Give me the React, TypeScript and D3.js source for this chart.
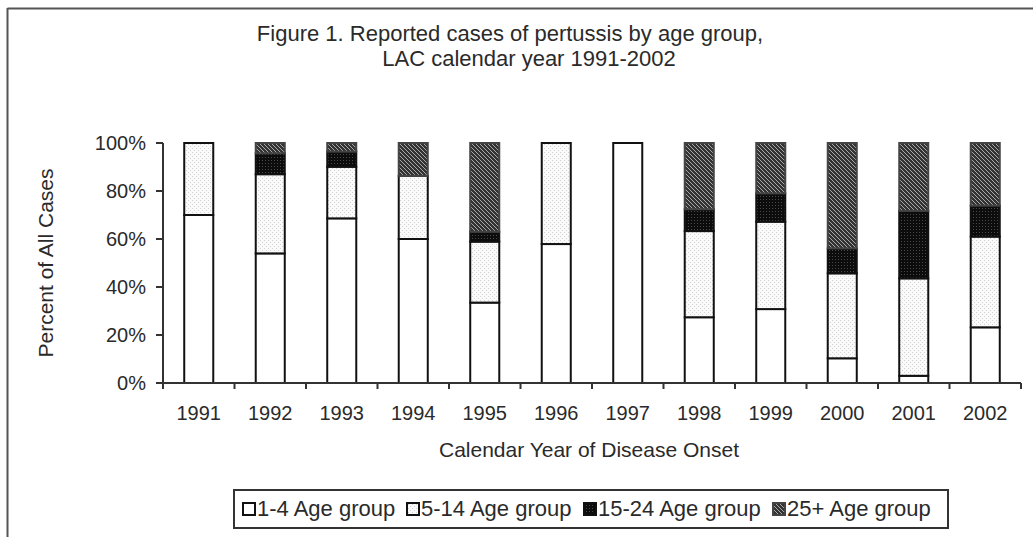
import React from "react";
import * as d3 from "d3";

const years = ["1991", "1992", "1993", "1994", "1995", "1996", "1997", "1998", "1999", "2000", "2001", "2002"];
const age1to4 = [70, 54, 68.6, 60, 33.5, 57.9, 100, 27.4, 30.8, 10.3, 3, 23.2];
const age5to14 = [30, 33, 21.5, 26.3, 25.4, 42.1, 0, 35.9, 36.4, 35.4, 40.6, 37.8];
const age15to24 = [0, 8.7, 6.3, 0, 4.1, 0, 0, 9.1, 11.8, 10.4, 28.1, 12.9];
const age25plus = [0, 4.3, 3.6, 13.7, 37, 0, 0, 27.6, 21, 43.9, 28.3, 26.1];
const seriesNames = ["1-4 Age group", "5-14 Age group", "15-24 Age group", "25+ Age group"];
const yTicks = [0, 20, 40, 60, 80, 100];

const keys = ["a", "b", "c", "d"];
const fills = ["#ffffff", "url(#pDots)", "url(#pDark)", "url(#pHatch)"];
const strokes = ["#111", "#111", "#111", "#444"];

export default function App() {
  const W = 1033, H = 537;
  const left = 163, right = 1021, top = 143, bottom = 383;
  const rows = years.map((y, i) => ({ year: y, a: age1to4[i], b: age5to14[i], c: age15to24[i], d: age25plus[i] }));
  const stack = d3.stack<any>().keys(keys)(rows);
  const x = d3.scaleBand<string>().domain(years).range([left, right]).paddingInner(0.594).paddingOuter(0.297);
  const y = d3.scaleLinear().domain([0, 100]).range([bottom, top]);
  const step = x.step();
  const font = "'Liberation Sans', Arial, sans-serif";
  const txt = "#2a2a2a";

  const legendSw = [243, 407, 584, 773];

  return (
    <svg width={W} height={H} style={{ position: "absolute", left: 0, top: 0, background: "#fff" }} fontFamily={font}>
      <defs>
        <pattern id="pDots" width="4" height="4" patternUnits="userSpaceOnUse">
          <rect width="4" height="4" fill="#fafafa" />
          <rect x="0" y="0" width="1" height="1" fill="#d2d2d2" />
          <rect x="2" y="2" width="1" height="1" fill="#d2d2d2" />
        </pattern>
        <pattern id="pDark" width="3" height="3" patternUnits="userSpaceOnUse">
          <rect width="3" height="3" fill="#0c0c0c" />
          <rect x="1" y="1" width="1" height="1" fill="#4a4a4a" />
        </pattern>
        <pattern id="pHatch" width="4" height="4" patternUnits="userSpaceOnUse">
          <rect width="4" height="4" fill="#333" />
          <path d="M0,0 l4,4 M-1,3 l2,2 M3,-1 l2,2" stroke="#a8a8a8" strokeWidth="1" />
        </pattern>
      </defs>

      {/* outer frame */}
      <line x1={7.5} y1={8.5} x2={W} y2={8.5} stroke="#555" strokeWidth={2} />
      <line x1={7.5} y1={8} x2={7.5} y2={H} stroke="#555" strokeWidth={2} />

      {/* title */}
      <text x={510} y={41} textAnchor="middle" fontSize={22} fill={txt}>Figure 1. Reported cases of pertussis by age group,</text>
      <text x={529} y={66} textAnchor="middle" fontSize={22} fill={txt}>LAC calendar year 1991-2002</text>

      {/* bars */}
      {stack.map((s, si) =>
        s.map((d, i) => {
          const h = y(d[0]) - y(d[1]);
          if (h <= 0.01) return null;
          return (
            <rect key={si + "-" + i} x={x(years[i])} y={y(d[1])} width={x.bandwidth()} height={h}
              fill={fills[si]} stroke={strokes[si]} strokeWidth={2} />
          );
        })
      )}

      {/* y axis */}
      <line x1={left} y1={top} x2={left} y2={bottom + 6} stroke="#333" strokeWidth={2} />
      {yTicks.map((t) => (
        <g key={t}>
          <line x1={left - 7} x2={left} y1={y(t)} y2={y(t)} stroke="#333" strokeWidth={2} />
          <text x={146} y={y(t)} dy="0.35em" textAnchor="end" fontSize={20} fill={txt}>{t}%</text>
        </g>
      ))}
      {/* x axis */}
      <line x1={left} y1={bottom} x2={right} y2={bottom} stroke="#333" strokeWidth={2} />
      {d3.range(years.length + 1).map((i) => (
        <line key={i} x1={left + i * step} x2={left + i * step} y1={bottom} y2={bottom + 6} stroke="#333" strokeWidth={2} />
      ))}
      {years.map((yr) => (
        <text key={yr} x={(x(yr) as number) + x.bandwidth() / 2} y={420} textAnchor="middle" fontSize={20} fill={txt}>{yr}</text>
      ))}
      <text x={589} y={457} textAnchor="middle" fontSize={21} fill={txt}>Calendar Year of Disease Onset</text>
      <text transform={`translate(53, ${(top + bottom) / 2}) rotate(-90)`} textAnchor="middle" fontSize={21} fill={txt}>Percent of All Cases</text>

      {/* legend */}
      <rect x={234} y={490} width={714} height={38} fill="#fff" stroke="#333" strokeWidth={2} />
      {seriesNames.map((n, i) => (
        <g key={n}>
          <rect x={legendSw[i]} y={503} width={12} height={12} fill={fills[i]} stroke={i === 3 ? "#444" : "#111"} strokeWidth={2} />
          <text x={legendSw[i] + 14} y={516} fontSize={22} fill={txt}>{n}</text>
        </g>
      ))}
    </svg>
  );
}
